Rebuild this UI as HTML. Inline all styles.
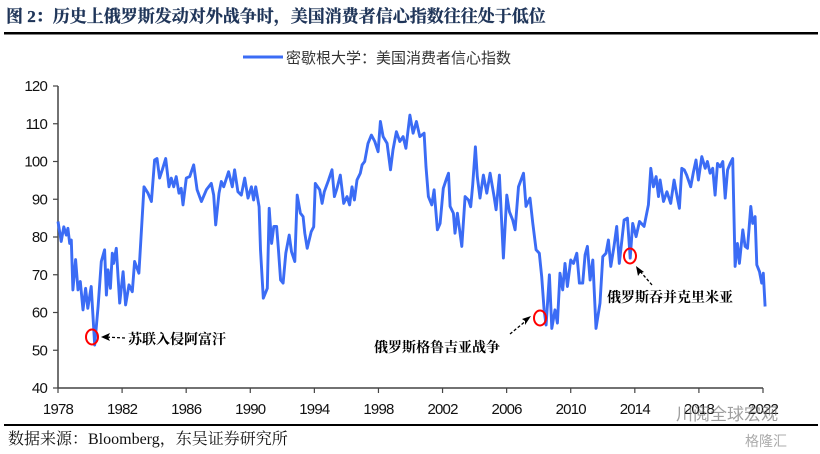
<!DOCTYPE html>
<html><head><meta charset="utf-8"><style>
body{margin:0;background:#fff;width:820px;height:454px;overflow:hidden}
svg{display:block}
.tk{font-family:"Liberation Sans",sans-serif;font-size:15px;fill:#111;letter-spacing:-0.8px}
.an{font-family:"Liberation Serif","Noto Serif CJK SC",serif;font-size:14px;font-weight:bold;fill:#000}
</style></head><body>
<svg id="chart" width="820" height="454" viewBox="0 0 820 454">
<text x="6" y="22" font-family="Liberation Serif,'Noto Serif CJK SC',serif" font-size="17" font-weight="bold" fill="#1f3559" stroke="#1f3559" stroke-width="0.3">图 2：历史上俄罗斯发动对外战争时，美国消费者信心指数往往处于低位</text>
<rect x="4" y="32" width="814" height="2.5" fill="#000"/>
<g>
<line x1="243" y1="57" x2="283" y2="57" stroke="#3b6cf5" stroke-width="3"/>
<text x="286" y="63" font-family="Liberation Sans,'Noto Sans CJK SC',sans-serif" font-size="15" fill="#333">密歇根大学：美国消费者信心指数</text>
</g>
<g id="axes"></g>
<path id="series" fill="none" stroke="#3b6cf5" stroke-width="2.9" stroke-linejoin="round"/>
<g>
<ellipse cx="92" cy="337" rx="6" ry="7.5" fill="none" stroke="#f00" stroke-width="2"/>
<line x1="125" y1="338" x2="104" y2="337" stroke="#000" stroke-width="1.3" stroke-dasharray="3,2"/>
<path d="M101 337 L110 333 L108 337 L110 341 Z" fill="#000"/>
<text class="an" x="128" y="344">苏联入侵阿富汗</text>
<ellipse cx="540" cy="318" rx="6" ry="7.5" fill="none" stroke="#f00" stroke-width="2"/>
<line x1="510" y1="334" x2="527" y2="320" stroke="#000" stroke-width="1.3" stroke-dasharray="3,2"/>
<path d="M531 316 L522 319 L525 321 L525 325 Z" fill="#000"/>
<text class="an" x="374" y="352">俄罗斯格鲁吉亚战争</text>
<ellipse cx="630" cy="256" rx="6" ry="7.5" fill="none" stroke="#f00" stroke-width="2"/>
<line x1="652" y1="285" x2="639" y2="270" stroke="#000" stroke-width="1.3" stroke-dasharray="3,2"/>
<path d="M636 266 L638 276 L640 273 L644 272 Z" fill="#000"/>
<text class="an" x="607" y="302">俄罗斯吞并克里米亚</text>
</g>
<rect x="4" y="424" width="814" height="2" fill="#000"/>
<text x="8" y="444" font-family="Liberation Serif,'Noto Serif CJK SC',serif" font-size="16" fill="#111">数据来源：Bloomberg，东吴证券研究所</text>
<text x="676" y="420" font-family="Liberation Sans,'Noto Sans CJK SC',sans-serif" font-size="17" fill="#777" opacity="0.7">川阅全球宏观</text>
<text x="745" y="446" font-family="Liberation Sans,'Noto Sans CJK SC',sans-serif" font-size="14" fill="#888" opacity="0.7">格隆汇</text>
</svg>
<script>
const years=[1978,1978.2,1978.36,1978.52,1978.62,1978.73,1978.83,1978.93,1979.1,1979.25,1979.39,1979.56,1979.72,1979.86,1980.07,1980.29,1980.5,1980.7,1980.91,1981.02,1981.12,1981.27,1981.39,1981.47,1981.64,1981.85,1982.06,1982.22,1982.43,1982.64,1982.78,1983.05,1983.37,1983.62,1983.83,1984.03,1984.18,1984.34,1984.51,1984.72,1984.93,1985.07,1985.22,1985.38,1985.55,1985.69,1985.8,1986.01,1986.22,1986.47,1986.68,1986.95,1987.26,1987.57,1987.72,1987.84,1988.05,1988.19,1988.34,1988.65,1988.88,1989.02,1989.23,1989.44,1989.65,1989.86,1990.07,1990.21,1990.34,1990.55,1990.64,1990.81,1991.06,1991.18,1991.33,1991.47,1991.64,1991.74,1991.89,1992.05,1992.22,1992.43,1992.57,1992.78,1992.93,1993.13,1993.3,1993.4,1993.55,1993.8,1993.96,1994.06,1994.33,1994.48,1994.62,1994.89,1995.1,1995.25,1995.41,1995.62,1995.83,1996.04,1996.2,1996.35,1996.5,1996.66,1996.87,1996.98,1997.14,1997.35,1997.56,1997.77,1997.98,1998.12,1998.29,1998.54,1998.75,1998.91,1999.12,1999.33,1999.54,1999.71,1999.96,2000.16,2000.37,2000.58,2000.85,2000.97,2001.12,2001.33,2001.47,2001.68,2001.85,2002.05,2002.26,2002.37,2002.47,2002.68,2002.78,2002.93,2003.2,2003.41,2003.62,2003.76,2003.88,2004.05,2004.17,2004.34,2004.55,2004.76,2004.97,2005.22,2005.34,2005.55,2005.8,2006.01,2006.17,2006.38,2006.53,2006.74,2007.05,2007.21,2007.46,2007.63,2007.84,2008.04,2008.19,2008.34,2008.46,2008.67,2008.82,2009.02,2009.17,2009.33,2009.5,2009.64,2009.79,2010.0,2010.17,2010.38,2010.54,2010.75,2010.9,2011.04,2011.21,2011.38,2011.58,2011.83,2012.0,2012.2,2012.35,2012.5,2012.7,2012.87,2013.03,2013.33,2013.54,2013.71,2013.87,2014.08,2014.29,2014.58,2014.85,2015.0,2015.16,2015.33,2015.48,2015.58,2015.79,2016.0,2016.24,2016.45,2016.66,2016.78,2016.93,2017.08,2017.24,2017.49,2017.66,2017.82,2017.97,2018.18,2018.39,2018.53,2018.7,2018.86,2019.01,2019.16,2019.33,2019.49,2019.64,2019.79,2019.95,2020.11,2020.26,2020.4,2020.53,2020.74,2020.88,2021.03,2021.24,2021.36,2021.51,2021.61,2021.78,2021.92,2022.02,2022.13];
const values=[84.1,78.8,82.7,80.5,82.3,78.3,79.2,66,74,66,68.2,60.7,66.4,61.1,66.9,51.4,61.6,73.5,76.6,64.6,71.3,66.4,75.7,73,77,62.5,70.8,62,67.3,65.5,73.5,70.4,93.3,91.6,89.4,100.4,100.8,95.6,97.8,100.8,93.3,95.6,93.3,96,91.6,92.9,88.5,95.6,96,99.1,92.5,89.4,92.5,94.2,91.1,83.2,91.6,94.7,93.3,97.3,93.3,97.8,92,91.1,95.6,90.3,93.3,89.8,93.3,88,76.6,63.8,66.4,87.6,78.3,82.8,82.8,77.5,68.6,67.8,75.7,80.5,76.1,73.5,91.1,86.3,85.4,81,77,81.4,82.7,94.2,92.5,88.9,92,95.1,97.8,90.7,92.9,96.4,88.9,90.7,88.5,93.3,89.8,95.1,96.9,99.1,100,104.8,107,105.3,102.6,110.6,106.6,104.8,97.8,103.1,107.9,105.3,106.6,103.5,112.3,107.5,110.6,106.6,107.5,98.6,90.7,88.5,92.5,81.9,83.6,92.9,95.6,96.9,88.1,86.3,81,86.3,77.5,90.7,89.8,88,93.8,103.9,96,90.3,96.4,91.6,96.9,90.7,87.2,96.4,74.4,91.1,86.7,84.5,81.9,93.3,96.9,88.1,90.3,83.6,76.6,75.7,69.5,60.7,56.7,70,55.8,60.7,57.2,70.4,66,73,66.9,73.9,73,75.7,67.8,67.8,75.3,77.5,68.6,73.9,55.8,62.5,74.8,75.7,79.2,72.2,77.5,82.8,73,84.5,85,74.4,83.6,80.1,84.1,82.8,88.5,98.2,93.3,96,90.7,95.1,89.4,92,88.9,95.1,90.3,87.6,98.2,97.8,96.4,93.3,97.3,100.4,95.1,101.3,98.2,100,96.9,98.2,91.1,99.5,98.6,100,90.3,97.8,99.5,100.8,72.2,78.3,73,81.9,77.5,77,88.1,83.6,85.4,72.6,70.8,67.8,70.4,61.6];
const yTicks=[40,50,60,70,80,90,100,110,120];
const xTicks=["1978","1982","1986","1990","1994","1998","2002","2006","2010","2014","2018","2022"];
const X0=58,X1=763,Y0=388,Y1=86;
function xs(y){return X0+(y-1978)/(2022-1978)*(X1-X0);}
function ys(v){return Y0-(v-40)/(120-40)*(Y0-Y1);}
const NS="http://www.w3.org/2000/svg";
const ax=document.getElementById('axes');
function mk(t,a,p){const e=document.createElementNS(NS,t);for(const k in a)e.setAttribute(k,a[k]);(p||ax).appendChild(e);return e;}
const yl=mk('line',{x1:X0,y1:Y1,x2:X0,y2:Y0,stroke:'#444','stroke-width':1.5});


const xl=mk('line',{x1:X0,y1:Y0,x2:X1,y2:Y0,stroke:'#444','stroke-width':1.5});


yTicks.forEach(v=>{const y=ys(v);mk('line',{x1:X0-5,y1:y,x2:X0,y2:y,stroke:'#444','stroke-width':1.2});
const t=mk('text',{x:X0-11,y:y+5,'text-anchor':'end',class:'tk'});t.textContent=v;

});
xTicks.forEach(s=>{const x=xs(+s);mk('line',{x1:x,y1:Y0,x2:x,y2:Y0+5,stroke:'#444','stroke-width':1.2});
const t=mk('text',{x:x,y:414,'text-anchor':'middle',class:'tk'});t.textContent=s;

});
document.getElementById('series').setAttribute('d',years.map((y,i)=>(i?'L':'M')+xs(y).toFixed(1)+' '+ys(values[i]).toFixed(1)).join(' '));
</script>
</body></html>
